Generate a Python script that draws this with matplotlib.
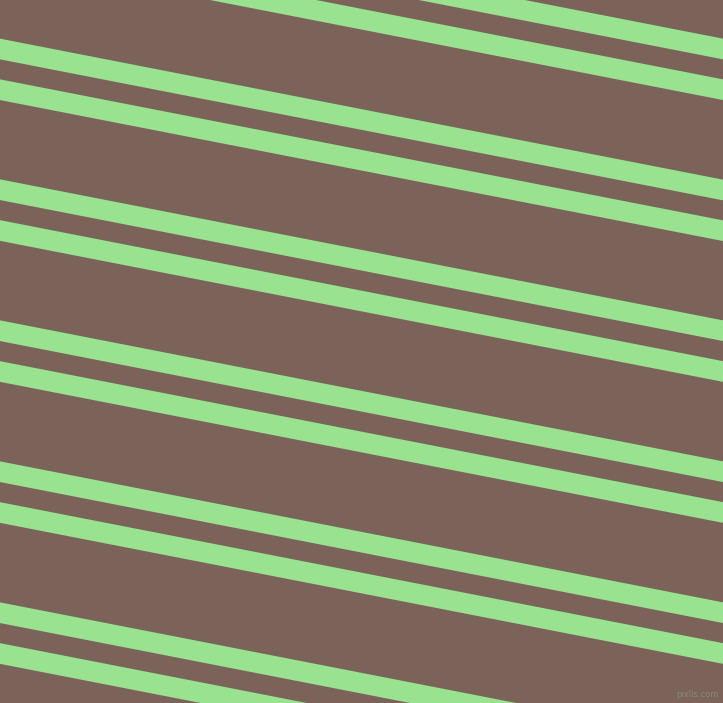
import numpy as np
import matplotlib
matplotlib.use('Agg')
import matplotlib.pyplot as plt

W, H = 723, 703
bg_color = '#7b635a'
stripe_color = '#98e290'

# left-edge centres of the stripes (px from top), pairs repeat every 141 px
stripe_centres = [-92.0, -51.3, 49.0, 89.7, 189.7, 230.5, 330.7, 371.5,
                  471.7, 512.5, 612.7, 653.5]
stripe_width = 20.7   # vertical thickness
rise = 141.0          # drop across full width

fig = plt.figure(figsize=(W / 100, H / 100), dpi=100)
ax = fig.add_axes([0, 0, 1, 1])
ax.set_xlim(0, W)
ax.set_ylim(H, 0)
ax.axis('off')
ax.add_patch(plt.Rectangle((0, 0), W, H, color=bg_color, zorder=0))

xs = np.array([0, W])
for c in stripe_centres:
    yc = c + rise * xs / W
    ax.fill_between(xs, yc - stripe_width / 2, yc + stripe_width / 2,
                    color=stripe_color, lw=0, zorder=1)

ax.text(W - 4, H - 4, 'pixlis.com', color='#8a8a7a', fontsize=6,
        ha='right', va='bottom', zorder=2)

fig.savefig('out.png', dpi=100, facecolor=bg_color)
